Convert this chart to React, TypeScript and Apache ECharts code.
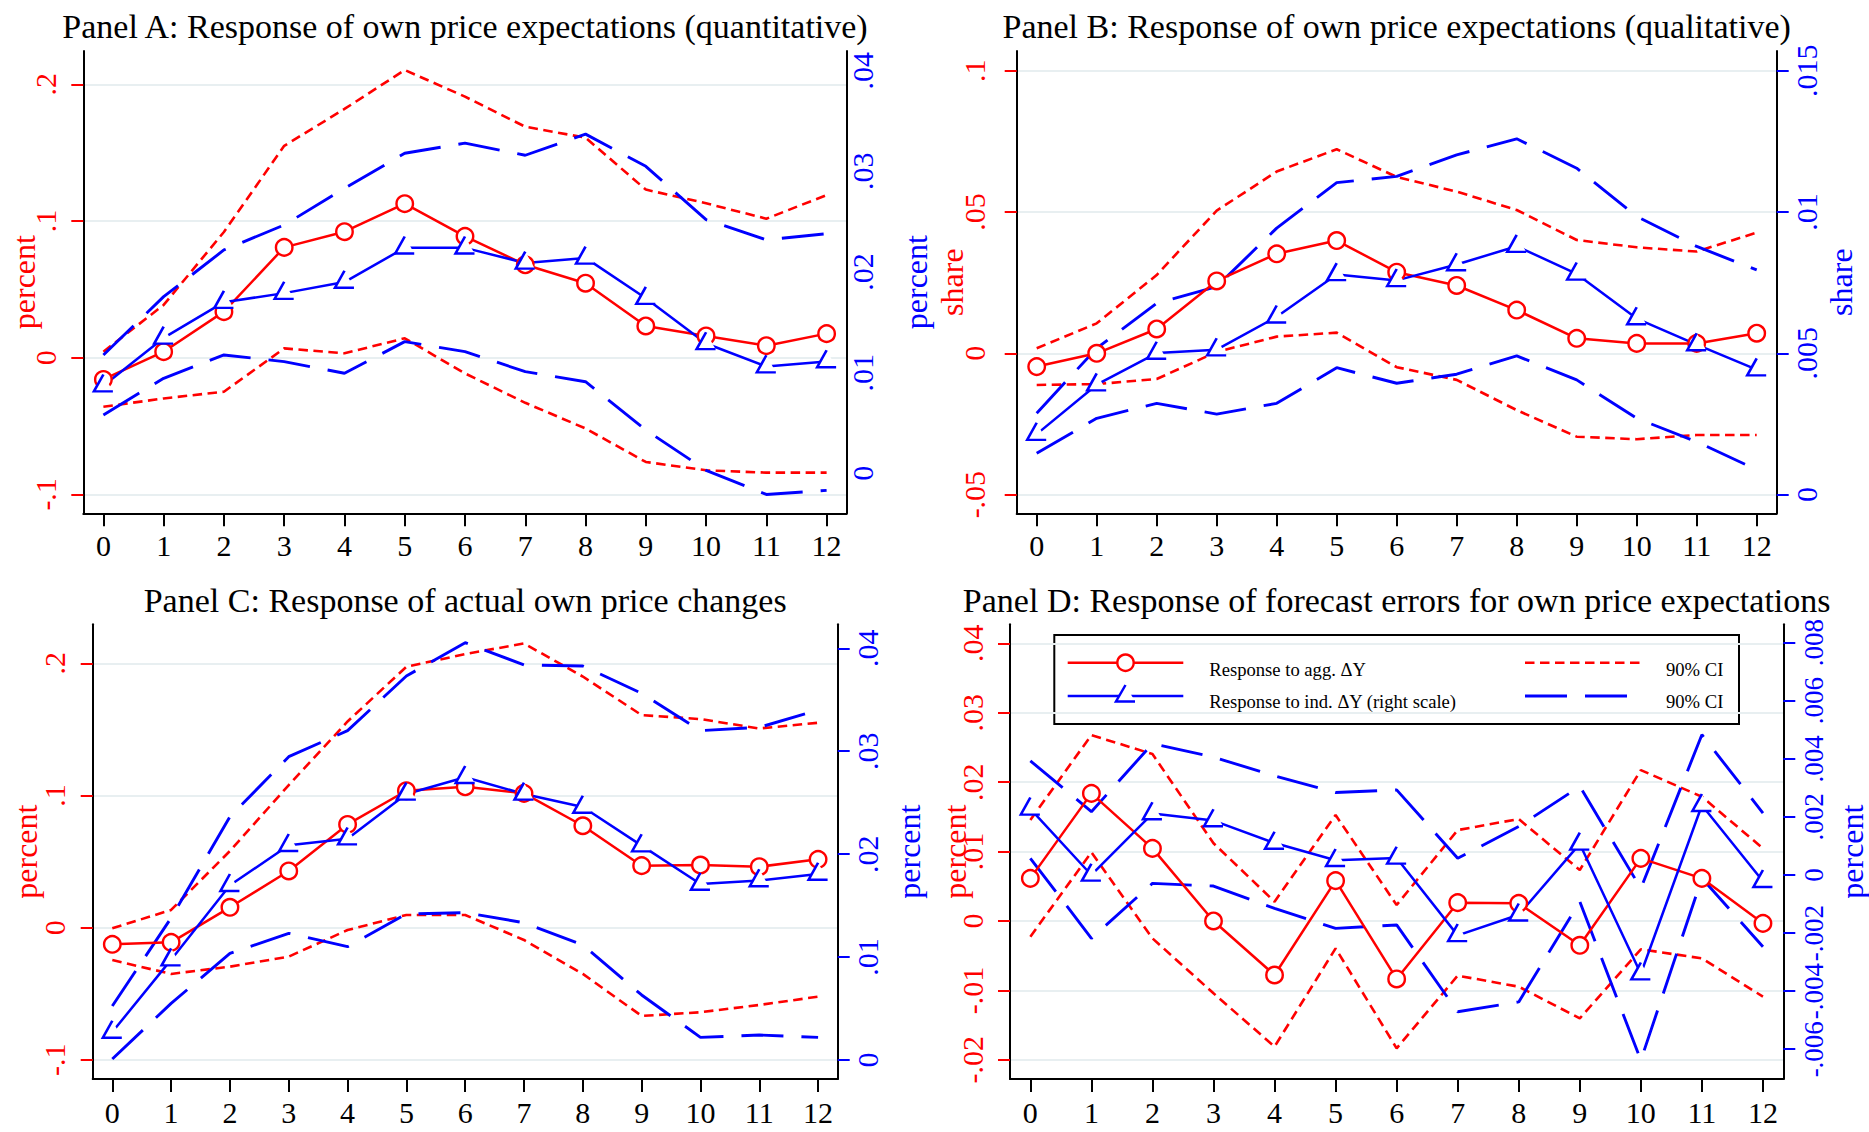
import React, { useEffect, useRef } from 'react';
import * as echarts from 'echarts';

// ---------------- data ----------------
const STEPS = [0, 1, 2, 3, 4, 5, 6, 7, 8, 9, 10, 11, 12];

// Panel A (left: agg, right: ind)
const A_AGG = [-0.0159, 0.0044, 0.0337, 0.0807, 0.0922, 0.1127, 0.0888, 0.068, 0.0545, 0.0232, 0.0159, 0.0088, 0.0176];
const A_AGG_HI = [0.0044, 0.0386, 0.092, 0.155, 0.182, 0.2105, 0.191, 0.169, 0.161, 0.123, 0.113, 0.1017, 0.119];
const A_AGG_LO = [-0.0359, -0.0298, -0.0249, 0.0068, 0.0032, 0.0142, -0.0115, -0.033, -0.0518, -0.0763, -0.0824, -0.0841, -0.0841];
const A_IND = [0.0087, 0.01345, 0.017, 0.0179, 0.019, 0.0224, 0.0224, 0.0209, 0.0214, 0.0174, 0.0129, 0.0106, 0.0111];
const A_IND_HI = [0.01176, 0.01755, 0.02219, 0.02467, 0.0283, 0.0318, 0.0328, 0.0316, 0.0337, 0.0305, 0.0252, 0.0232, 0.0238];
const A_IND_LO = [0.0058, 0.00944, 0.01176, 0.0111, 0.00994, 0.01308, 0.01209, 0.0101, 0.0091, 0.0043, 0.0003, -0.0021, -0.0017];

// Panel B
const B_AGG = [-0.0047, 0.0, 0.0086, 0.0256, 0.0352, 0.0399, 0.0287, 0.024, 0.0153, 0.0053, 0.0035, 0.0035, 0.0071];
const B_AGG_HI = [0.0018, 0.0106, 0.0277, 0.0505, 0.0643, 0.0722, 0.0624, 0.0572, 0.0507, 0.0401, 0.0375, 0.036, 0.0427];
const B_AGG_LO = [-0.0112, -0.0109, -0.0091, 0.0005, 0.0059, 0.0073, -0.0049, -0.0094, -0.0201, -0.0295, -0.0304, -0.0289, -0.0289];
const B_IND = [0.00214, 0.00389, 0.00501, 0.00513, 0.00629, 0.00779, 0.00758, 0.00814, 0.00879, 0.00781, 0.00623, 0.00531, 0.00442];
const B_IND_HI = [0.00288, 0.00518, 0.00677, 0.00736, 0.00943, 0.01104, 0.01126, 0.01202, 0.01259, 0.01155, 0.00984, 0.00878, 0.00795];
const B_IND_LO = [0.00146, 0.0027, 0.00323, 0.00285, 0.00323, 0.00449, 0.00394, 0.00426, 0.00491, 0.00406, 0.0027, 0.00187, 0.00088];

// Panel C
const C_AGG = [-0.0126, -0.0111, 0.0154, 0.0429, 0.0781, 0.1036, 0.1066, 0.1016, 0.0771, 0.0469, 0.0474, 0.0461, 0.0517];
const C_AGG_HI = [-0.0005, 0.0134, 0.058, 0.1079, 0.156, 0.1974, 0.207, 0.215, 0.19, 0.1608, 0.1578, 0.1507, 0.155];
const C_AGG_LO = [-0.0245, -0.035, -0.0295, -0.0219, -0.0018, 0.0096, 0.0096, -0.0093, -0.035, -0.0668, -0.064, -0.0585, -0.0522];
const C_IND = [0.00272, 0.00975, 0.01697, 0.02086, 0.0215, 0.02585, 0.02747, 0.02585, 0.02458, 0.02083, 0.0171, 0.01743, 0.01807];
const C_IND_HI = [0.00525, 0.0138, 0.02364, 0.02947, 0.032, 0.03731, 0.04055, 0.03838, 0.03828, 0.03563, 0.032, 0.03232, 0.034];
const C_IND_LO = [0.0001, 0.0055, 0.01036, 0.01231, 0.01101, 0.01419, 0.01432, 0.01334, 0.01117, 0.00632, 0.0022, 0.00243, 0.0022];

// Panel D
const D_AGG = [0.00614, 0.01838, 0.01046, 0.0, -0.00778, 0.00581, -0.00835, 0.00264, 0.00254, -0.0035, 0.00902, 0.00614, -0.00034];
const D_AGG_HI = [0.01455, 0.02678, 0.02405, 0.0112, 0.00278, 0.01526, 0.0023, 0.0131, 0.01469, 0.00734, 0.02174, 0.0179, 0.01046];
const D_AGG_LO = [-0.00226, 0.00989, -0.0025, -0.01042, -0.0181, -0.00394, -0.01834, -0.00787, -0.00946, -0.01402, -0.00408, -0.00538, -0.0109];
const D_IND = [0.002276, 0.0, 0.002115, 0.001874, 0.0011, 0.000506, 0.000586, -0.00208, -0.00137, 0.00107, -0.0034, 0.0024, -0.000218];
const D_IND_HI = [0.00393, 0.00218, 0.00452, 0.00406, 0.00341, 0.00284, 0.00293, 0.000575, 0.00167, 0.00305, -0.00046, 0.00483, 0.00213];
const D_IND_LO = [0.000575, -0.00218, -0.00029, -0.00038, -0.00115, -0.00184, -0.00172, -0.00471, -0.00437, -0.00092, -0.00638, -0.000115, -0.00247];

// tick values
const A_LEFT_TICKS = [-0.1, 0, 0.1, 0.2];
const A_RIGHT_TICKS = [0, 0.01, 0.02, 0.03, 0.04];
const B_LEFT_TICKS = [-0.05, 0, 0.05, 0.1];
const B_RIGHT_TICKS = [0, 0.005, 0.01, 0.015];
const C_LEFT_TICKS = [-0.1, 0, 0.1, 0.2];
const C_RIGHT_TICKS = [0, 0.01, 0.02, 0.03, 0.04];
const D_LEFT_TICKS = [-0.02, -0.01, 0, 0.01, 0.02, 0.03, 0.04];
const D_RIGHT_TICKS = [-0.006, -0.004, -0.002, 0, 0.002, 0.004, 0.006, 0.008];

const TITLES = [
  'Panel A: Response of own price expectations (quantitative)',
  'Panel B: Response of own price expectations (qualitative)',
  'Panel C: Response of actual own price changes',
  'Panel D: Response of forecast errors for own price expectations',
];
const LEGEND_LABELS = ['Response to agg. \u0394Y', 'Response to ind. \u0394Y (right scale)', '90% CI', '90% CI'];

// ---------------- styling / layout ----------------
const FONT = '"Liberation Serif", "Times New Roman", Times, serif';
const RED = '#ff0000';
const BLUE = '#0000ff';
const GRIDC = '#e8eff1';
const RED_DASH = [9.5, 5.5];
const BLUE_DASH = [42, 18];
const TRI = 'path://M9,0 L0,16 L18,16';
const TICK_FS = 30;
const NAME_FS = 32;

type Side = { min: number; max: number; ticks: number[]; name: string; labelMargin: number; nameGap: number; showTicks: boolean; fs: number };
type Panel = {
  title: string; tx: number; ty: number;
  grid: { left: number; top: number; width: number; height: number };
  xMargin: number; L: Side; R: Side;
  agg: number[]; aggHi: number[]; aggLo: number[]; ind: number[]; indHi: number[]; indLo: number[];
};

const PANELS: Panel[] = [
  {
    title: TITLES[0], tx: 465, ty: 26.5,
    grid: { left: 83.3, top: 51, width: 763.4, height: 462.3 }, xMargin: 17,
    L: { min: -0.11385, max: 0.22441, ticks: A_LEFT_TICKS, name: 'percent', labelMargin: 22.6, nameGap: 43.3, showTicks: true, fs: TICK_FS },
    R: { min: -0.003974, max: 0.041957, ticks: A_RIGHT_TICKS, name: 'percent', labelMargin: 1, nameGap: 52.8, showTicks: false, fs: TICK_FS },
    agg: A_AGG, aggHi: A_AGG_HI, aggLo: A_AGG_LO, ind: A_IND, indHi: A_IND_HI, indLo: A_IND_LO,
  },
  {
    title: TITLES[1], tx: 1396.7, ty: 26.5,
    grid: { left: 1016.7, top: 51, width: 760, height: 462.3 }, xMargin: 17,
    L: { min: -0.05661, max: 0.10696, ticks: B_LEFT_TICKS, name: 'share', labelMargin: 27, nameGap: 49, showTicks: true, fs: TICK_FS },
    R: { min: -0.000661, max: 0.015696, ticks: B_RIGHT_TICKS, name: 'share', labelMargin: 15, nameGap: 48, showTicks: true, fs: TICK_FS },
    agg: B_AGG, aggHi: B_AGG_HI, aggLo: B_AGG_LO, ind: B_IND, indHi: B_IND_HI, indLo: B_IND_LO,
  },
  {
    title: TITLES[2], tx: 465.2, ty: 600.5,
    grid: { left: 92.7, top: 624.3, width: 745, height: 454.7 }, xMargin: 18,
    L: { min: -0.1145, max: 0.22951, ticks: C_LEFT_TICKS, name: 'percent', labelMargin: 23.4, nameGap: 50.7, showTicks: true, fs: TICK_FS },
    R: { min: -0.001846, max: 0.042333, ticks: C_RIGHT_TICKS, name: 'percent', labelMargin: 14.7, nameGap: 55.6, showTicks: true, fs: TICK_FS },
    agg: C_AGG, aggHi: C_AGG_HI, aggLo: C_AGG_LO, ind: C_IND, indHi: C_IND_HI, indLo: C_IND_LO,
  },
  {
    title: TITLES[3], tx: 1396.7, ty: 600.5,
    grid: { left: 1010, top: 624.3, width: 773.3, height: 454.7 }, xMargin: 18,
    L: { min: -0.022761, max: 0.042738, ticks: D_LEFT_TICKS, name: 'percent', labelMargin: 22.7, nameGap: 39, showTicks: true, fs: TICK_FS },
    R: { min: -0.0070246, max: 0.0086316, ticks: D_RIGHT_TICKS, name: 'percent', labelMargin: 17.2, nameGap: 52.4, showTicks: true, fs: 27 },
    agg: D_AGG, aggHi: D_AGG_HI, aggLo: D_AGG_LO, ind: D_IND, indHi: D_IND_HI, indLo: D_IND_LO,
  },
];

function fmt(v: number): string {
  if (Math.abs(v) < 1e-12) return '0';
  const s = String(parseFloat(v.toFixed(6)));
  return s.replace(/^(-?)0\./, '$1.');
}

function pairs(vals: number[]) {
  return STEPS.map((s, i) => [s, vals[i]]);
}

function yAxisFor(p: Panel, gi: number, side: 'left' | 'right') {
  const s = side === 'left' ? p.L : p.R;
  const color = side === 'left' ? RED : BLUE;
  return {
    type: 'value', gridIndex: gi, position: side, min: s.min, max: s.max,
    axisLine: { show: true, onZero: false, lineStyle: { color: '#000', width: 2 } },
    axisTick: { show: s.showTicks, length: 12, customValues: s.ticks, lineStyle: { color, width: 2 } },
    axisLabel: {
      show: true, customValues: s.ticks, rotate: 90, margin: s.labelMargin, hideOverlap: false,
      showMinLabel: true, showMaxLabel: true,
      fontSize: s.fs, lineHeight: s.fs, fontFamily: FONT, color, formatter: (v: number) => fmt(v),
    },
    splitLine: { show: side === 'left', lineStyle: { color: GRIDC, width: 2 } },
    name: s.name, nameLocation: 'middle', nameGap: s.nameGap, nameMoveOverlap: false,
    nameTextStyle: { color, fontSize: NAME_FS, lineHeight: NAME_FS, fontFamily: FONT },
  };
}

function buildOption() {
  const grid: any[] = [];
  const xAxis: any[] = [];
  const yAxis: any[] = [];
  const series: any[] = [];
  const graphic: any[] = [];

  PANELS.forEach((p, gi) => {
    grid.push({ ...p.grid, containLabel: false, outerBoundsMode: 'none' });
    xAxis.push({
      type: 'value', gridIndex: gi, min: -1 / 3, max: 12 + 1 / 3,
      axisLine: { show: true, onZero: false, lineStyle: { color: '#000', width: 2 } },
      axisTick: { show: true, length: 13, customValues: STEPS, lineStyle: { color: '#000', width: 2 } },
      axisLabel: {
        customValues: STEPS, margin: p.xMargin, showMinLabel: true, showMaxLabel: true,
        fontSize: TICK_FS, lineHeight: TICK_FS, fontFamily: FONT, color: '#000',
      },
      splitLine: { show: false },
    });
    yAxis.push(yAxisFor(p, gi, 'left'));
    yAxis.push(yAxisFor(p, gi, 'right'));
    const yl = gi * 2;
    const yr = gi * 2 + 1;
    const ci = (vals: number[], yi: number, color: string, dash: number[], width: number) => ({
      type: 'line', xAxisIndex: gi, yAxisIndex: yi, data: pairs(vals), symbol: 'none', showSymbol: false,
      lineStyle: { color, width, type: dash }, silent: true, animation: false,
    });
    series.push(ci(p.aggHi, yl, RED, RED_DASH, 2.6));
    series.push(ci(p.aggLo, yl, RED, RED_DASH, 2.6));
    series.push(ci(p.indHi, yr, BLUE, BLUE_DASH, 2.9));
    series.push(ci(p.indLo, yr, BLUE, BLUE_DASH, 2.9));
    series.push({
      type: 'line', xAxisIndex: gi, yAxisIndex: yl, data: pairs(p.agg),
      symbol: 'circle', symbolSize: 16.5, showSymbol: true,
      itemStyle: { color: '#fff', borderColor: RED, borderWidth: 2.4 },
      lineStyle: { color: RED, width: 2.5 }, silent: true, animation: false,
    });
    series.push({
      type: 'line', xAxisIndex: gi, yAxisIndex: yr, data: pairs(p.ind),
      symbol: TRI, symbolSize: [19, 17], symbolOffset: [0, -2.8], showSymbol: true,
      itemStyle: { color: '#fff', borderColor: BLUE, borderWidth: 2.5 },
      lineStyle: { color: BLUE, width: 2.5 }, silent: true, animation: false,
    });
    graphic.push({
      type: 'text', x: p.tx, y: p.ty, z: 100,
      style: { text: p.title, fill: '#000', fontSize: 34, fontFamily: FONT, textAlign: 'center', textVerticalAlign: 'middle' },
    });
  });

  // legend (inside Panel D)
  const r1 = 662.7;
  const r2 = 696;
  const tfont = { fontSize: 18.6, fontFamily: FONT, fill: '#000', textAlign: 'left', textVerticalAlign: 'middle' };
  const tri = [[1125.5, r2 - 11], [1116, r2 + 5.5], [1135, r2 + 5.5]];
  const legend: any[] = [
    { type: 'rect', shape: { x: 1054.3, y: 635, width: 684.7, height: 89 }, style: { fill: '#fff', stroke: '#000', lineWidth: 2 } },
    { type: 'line', shape: { x1: 1067.7, y1: r1, x2: 1183.3, y2: r1 }, style: { stroke: RED, lineWidth: 2.5 } },
    { type: 'circle', shape: { cx: 1125.5, cy: r1, r: 8.2 }, style: { fill: '#fff', stroke: RED, lineWidth: 2.4 } },
    { type: 'line', shape: { x1: 1067.7, y1: r2, x2: 1183.3, y2: r2 }, style: { stroke: BLUE, lineWidth: 2.5 } },
    { type: 'polygon', shape: { points: tri }, style: { fill: '#fff' } },
    { type: 'polyline', shape: { points: tri }, style: { stroke: BLUE, lineWidth: 2.5, fill: null } },
    { type: 'text', x: 1209.3, y: r1 + 6.3, style: { text: LEGEND_LABELS[0], ...tfont } },
    { type: 'text', x: 1209.3, y: r2 + 5.7, style: { text: LEGEND_LABELS[1], ...tfont } },
    { type: 'line', shape: { x1: 1525, y1: r1, x2: 1641.7, y2: r1 }, style: { stroke: RED, lineWidth: 2.6, lineDash: RED_DASH } },
    { type: 'line', shape: { x1: 1525, y1: r2, x2: 1641.7, y2: r2 }, style: { stroke: BLUE, lineWidth: 2.9, lineDash: BLUE_DASH } },
    { type: 'text', x: 1666, y: r1 + 6.3, style: { text: LEGEND_LABELS[2], ...tfont } },
    { type: 'text', x: 1666, y: r2 + 5.7, style: { text: LEGEND_LABELS[3], ...tfont } },
  ];
  graphic.push({ type: 'group', z: 100, children: legend });

  return {
    animation: false,
    backgroundColor: '#ffffff',
    grid, xAxis, yAxis, series, graphic,
  };
}

export default function App() {
  const ref = useRef<HTMLDivElement>(null);
  useEffect(() => {
    if (!ref.current) return;
    const chart = echarts.init(ref.current, null, { renderer: 'svg' });
    chart.setOption(buildOption() as any);
    return () => {
      chart.dispose();
    };
  }, []);
  return (
    <div
      ref={ref}
      style={{ position: 'fixed', left: 0, top: 0, width: 1869, height: 1132, background: '#fff' }}
    />
  );
}
